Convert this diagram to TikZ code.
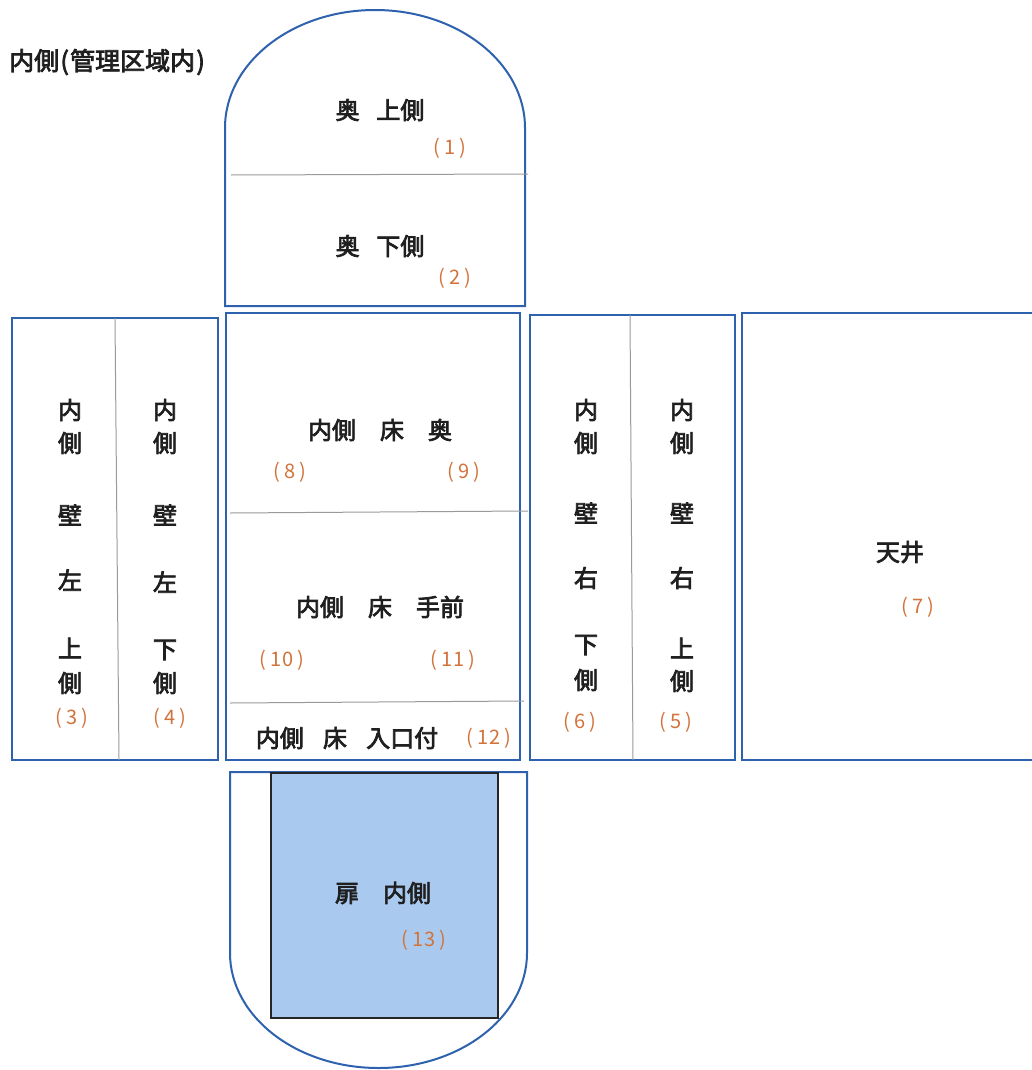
\documentclass[tikz,border=0pt]{standalone}
\usepackage{fontspec}
\newfontfamily\jpb{Noto Sans CJK JP}[FakeBold=3]
\newfontfamily\jpn{Noto Sans CJK JP}
\definecolor{pblue}{HTML}{2F62AE}
\definecolor{numorange}{HTML}{D2733C}
\definecolor{doorblue}{HTML}{A9CAEE}
\definecolor{divgray}{HTML}{9A9A9A}
\newcommand{\pnum}[1]{(\hspace{0.22em}#1\hspace{0.22em})}
\begin{document}
\begin{tikzpicture}[x=1pt,y=-1pt,
  panel/.style={draw=pblue, line width=2pt},
  divider/.style={draw=divgray, line width=1pt},
  lab/.style={font=\jpb\fontsize{24}{26}\selectfont, text=black!88, inner sep=0pt},
  num/.style={font=\jpn\fontsize{20}{22}\selectfont, text=numorange, inner sep=0pt},
  title/.style={font=\jpb\fontsize{25}{28}\selectfont, text=black!88, inner sep=0pt, anchor=west}]
\fill[white] (0,0) rectangle (1032,1070);
\useasboundingbox (0,0) rectangle (1032,1070);

% title
\node[title] (title) at (9,62) {内側\hspace{0.05em}(\hspace{0.05em}管理区域内\hspace{0.05em})};

% top arch panel
\draw[panel] (225,306) -- (225,128) arc[start angle=180, end angle=360, x radius=150, y radius=118] -- (525,306) -- cycle;
\draw[divider] (231,175) -- (528,174);
\node[lab] (oku-up) at (380,110) {奥\hspace{0.7em}上側};
\node[num] (n1) at (450,148) {\pnum{1}};
\node[lab] (oku-dn) at (380,246) {奥\hspace{0.7em}下側};
\node[num] (n2) at (455,278) {\pnum{2}};

% left wall panel
\draw[panel] (12,318) rectangle (218,760);
\draw[divider] (115,318) -- (119,760);
\foreach \i/\c/\y in {1/内/410, 2/側/443, 3/壁/515, 4/左/580, 5/上/648, 6/側/683}
  \node[lab] (lc1-\i) at (70,\y) {\c};
\node[num] (n3) at (72,718) {\pnum{3}};
\foreach \i/\c/\y in {1/内/410, 2/側/443, 3/壁/515, 4/左/582, 5/下/650, 6/側/683}
  \node[lab] (lc2-\i) at (165,\y) {\c};
\node[num] (n4) at (170,718) {\pnum{4}};

% floor panel
\draw[panel, line width=2.4pt] (226,313) rectangle (520,760);
\draw[divider] (230,513) -- (528,511);
\draw[divider] (230,703) -- (524,701);
\node[lab] (floor-back) at (380,430) {内側\hspace{1em}床\hspace{1em}奥};
\node[num] (n8) at (290,472) {\pnum{8}};
\node[num] (n9) at (464,472) {\pnum{9}};
\node[lab] (floor-front) at (380,607) {内側\hspace{1em}床\hspace{1em}手前};
\node[num] (n10) at (282,660) {\pnum{10}};
\node[num] (n11) at (453,660) {\pnum{11}};
\node[lab] (floor-ent) at (347,738) {内側\hspace{0.8em}床\hspace{0.8em}入口付};
\node[num] (n12) at (489,738) {\pnum{12}};

% right wall panel
\draw[panel] (530,315) rectangle (735,760);
\draw[divider] (630,315) -- (633,760);
\foreach \i/\c/\y in {1/内/410, 2/側/443, 3/壁/513, 4/右/578, 5/下/645, 6/側/680}
  \node[lab] (rc1-\i) at (586,\y) {\c};
\node[num] (n6) at (580,722) {\pnum{6}};
\foreach \i/\c/\y in {1/内/410, 2/側/443, 3/壁/513, 4/右/578, 5/上/648, 6/側/681}
  \node[lab] (rc2-\i) at (682,\y) {\c};
\node[num] (n5) at (676,722) {\pnum{5}};

% ceiling panel (open to the right edge)
\draw[panel] (1032,313) -- (742,313) -- (742,760) -- (1032,760);
\node[lab] (ceiling) at (900,552) {天井};
\node[num] (n7) at (918,607) {\pnum{7}};

% door panel
\draw[panel] (230,772) -- (230,953) arc[start angle=180, end angle=0, x radius=148.5, y radius=115] -- (527,772) -- cycle;
\draw[draw=black!85, fill=doorblue, line width=2pt] (271,773) rectangle (498,1018);
\node[lab] (door) at (383,893) {扉\hspace{1em}内側};
\node[num] (n13) at (424,940) {\pnum{13}};
\end{tikzpicture}
\end{document}
